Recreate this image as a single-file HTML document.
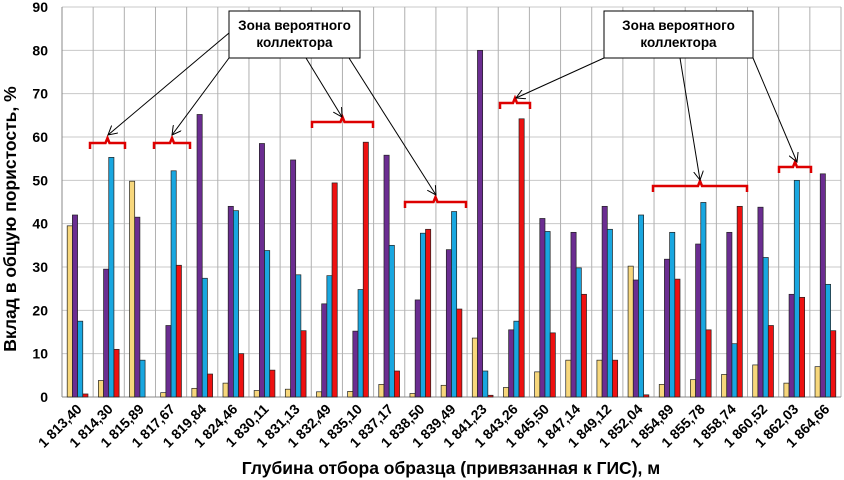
<!DOCTYPE html>
<html><head><meta charset="utf-8"><style>
body{margin:0;background:#fff}
svg{display:block;font-family:"Liberation Sans",Arial,sans-serif}
</style></head><body>
<svg id="chart" width="844" height="480" viewBox="0 0 844 480"></svg>
<script>
const categories=["1 813,40","1 814,30","1 815,89","1 817,67","1 819,84","1 824,46","1 830,11","1 831,13","1 832,49","1 835,10","1 837,17","1 838,50","1 839,49","1 841,23","1 843,26","1 845,50","1 847,14","1 849,12","1 852,04","1 854,89","1 855,78","1 858,74","1 860,52","1 862,03","1 864,66"];
const seriesYellow=[39.5,3.8,49.8,1,2,3.2,1.5,1.8,1.2,1.3,2.9,0.8,2.7,13.6,2.2,5.8,8.5,8.5,30.2,2.9,4,5.2,7.4,3.2,7];
const seriesPurple=[42,29.5,41.5,16.5,65.2,44,58.5,54.7,21.5,15.2,55.8,22.4,34,80,15.5,41.2,38,44,27,31.8,35.3,38,43.8,23.7,51.5];
const seriesBlue=[17.5,55.3,8.5,52.2,27.4,43,33.8,28.2,28,24.8,35,37.8,42.8,6,17.5,38.2,29.8,38.7,42,38,44.9,12.3,32.2,50,26];
const seriesRed=[0.7,11,0,30.4,5.3,10,6.2,15.3,49.4,58.8,6,38.7,20.3,0.4,64.2,14.8,23.7,8.5,0.5,27.2,15.5,44,16.5,23,15.3];
const yTicks=[0,10,20,30,40,50,60,70,80,90];

const NS="http://www.w3.org/2000/svg";
const svg=document.getElementById('chart');
const L=62,R=841,T=7,B=397,YMAX=90;
const bw=(R-L)/categories.length;
const y=v=>B-(v/YMAX)*(B-T);
const xg=i=>L+i*bw;
function mk(tag,attrs,parent){const e=document.createElementNS(NS,tag);for(const k in attrs)e.setAttribute(k,attrs[k]);(parent||svg).appendChild(e);return e;}

yTicks.forEach(t=>{const l=mk('line',{x1:L,x2:R,y1:y(t),y2:y(t),stroke:'#c8c8c8','stroke-width':1});

});
for(let i=0;i<=categories.length;i++){const l=mk('line',{x1:xg(i),x2:xg(i),y1:T,y2:B,stroke:'#b0b0b0','stroke-width':1});

}
mk('line',{x1:L,x2:L,y1:T,y2:B,stroke:'#888','stroke-width':1});
mk('line',{x1:L,x2:R,y1:B,y2:B,stroke:'#888','stroke-width':1});

yTicks.forEach(t=>{const tx=mk('text',{x:48,y:y(t)+5,'text-anchor':'end','font-size':14,'font-weight':'bold',fill:'#000'});tx.textContent=t;

});

const series=[[seriesYellow,'#f7d77c','yellow'],[seriesPurple,'#6b2d91','purple'],[seriesBlue,'#19a7e0','blue'],[seriesRed,'#ee1111','red']];
const w=bw/6;
categories.forEach((c,i)=>{
 series.forEach((s,j)=>{const v=s[0][i];if(v<=0)return;
  const r=mk('rect',{x:xg(i)+w+j*w,y:y(v),width:w,height:B-y(v),fill:s[1],stroke:'#222','stroke-width':0.7});
  
  });
 const cx=xg(i)+bw/2+5, cy=B+13;
 const tx=mk('text',{x:cx,y:cy,'text-anchor':'end','font-size':14,'font-weight':'bold',transform:`rotate(-45 ${cx} ${cy})`});
 tx.textContent=c;
 
 
});

const yt=mk('text',{x:0,y:0,'text-anchor':'middle','font-size':17.5,'font-weight':'bold',transform:'translate(16 219) rotate(-90)'});
yt.textContent='Вклад в общую пористость, %';


const xt=mk('text',{x:451,y:474,'text-anchor':'middle','font-size':17.5,'font-weight':'bold'});
xt.textContent='Глубина отбора образца (привязанная к ГИС), м';



const defs=mk('defs',{});
const m=mk('marker',{id:'ah',markerWidth:10,markerHeight:10,refX:9,refY:5,orient:'auto',markerUnits:'userSpaceOnUse'},defs);
mk('path',{d:'M0,0 L9,5 L0,10',fill:'none',stroke:'#000','stroke-width':1},m);
function brace(x1,x2,yb){const xm=(x1+x2)/2;
 const p=mk('path',{d:`M${x1},${yb+6} L${x1},${yb} L${xm-2},${yb} L${xm},${yb-5} L${xm+2},${yb} L${x2},${yb} L${x2},${yb+6}`,fill:'none',stroke:'#dd0000','stroke-width':2.5});
 
 }
brace(90,125,143);brace(154,190,143);brace(312,373,122);brace(405,466,202);brace(500,530,103);brace(653,747,186);brace(779,811,167);
function arrow(a,b,c,d){const l=mk('line',{x1:a,y1:b,x2:c,y2:d,stroke:'#000','stroke-width':1,'marker-end':'url(#ah)'});
 
 }
arrow(229,33,108,135);arrow(229,58,172,135);arrow(306,58,342,117);arrow(349,58,436,195);
arrow(604,58,516,98);arrow(680,58,700,180);arrow(753,58,797,162);
function box(x,w2,name){const g=mk('g',{});
 
 
 mk('rect',{x:x,y:11,width:w2,height:47,fill:'#fff',stroke:'#000','stroke-width':1},g);
 const t1=mk('text',{x:x+w2/2,y:30,'text-anchor':'middle','font-size':13.5,'font-weight':'bold'},g);t1.textContent='Зона вероятного';
 const t2=mk('text',{x:x+w2/2,y:47,'text-anchor':'middle','font-size':13.5,'font-weight':'bold'},g);t2.textContent='коллектора';}
box(229,131,'annotation-box-left');box(604,149,'annotation-box-right');
</script>
</body></html>
